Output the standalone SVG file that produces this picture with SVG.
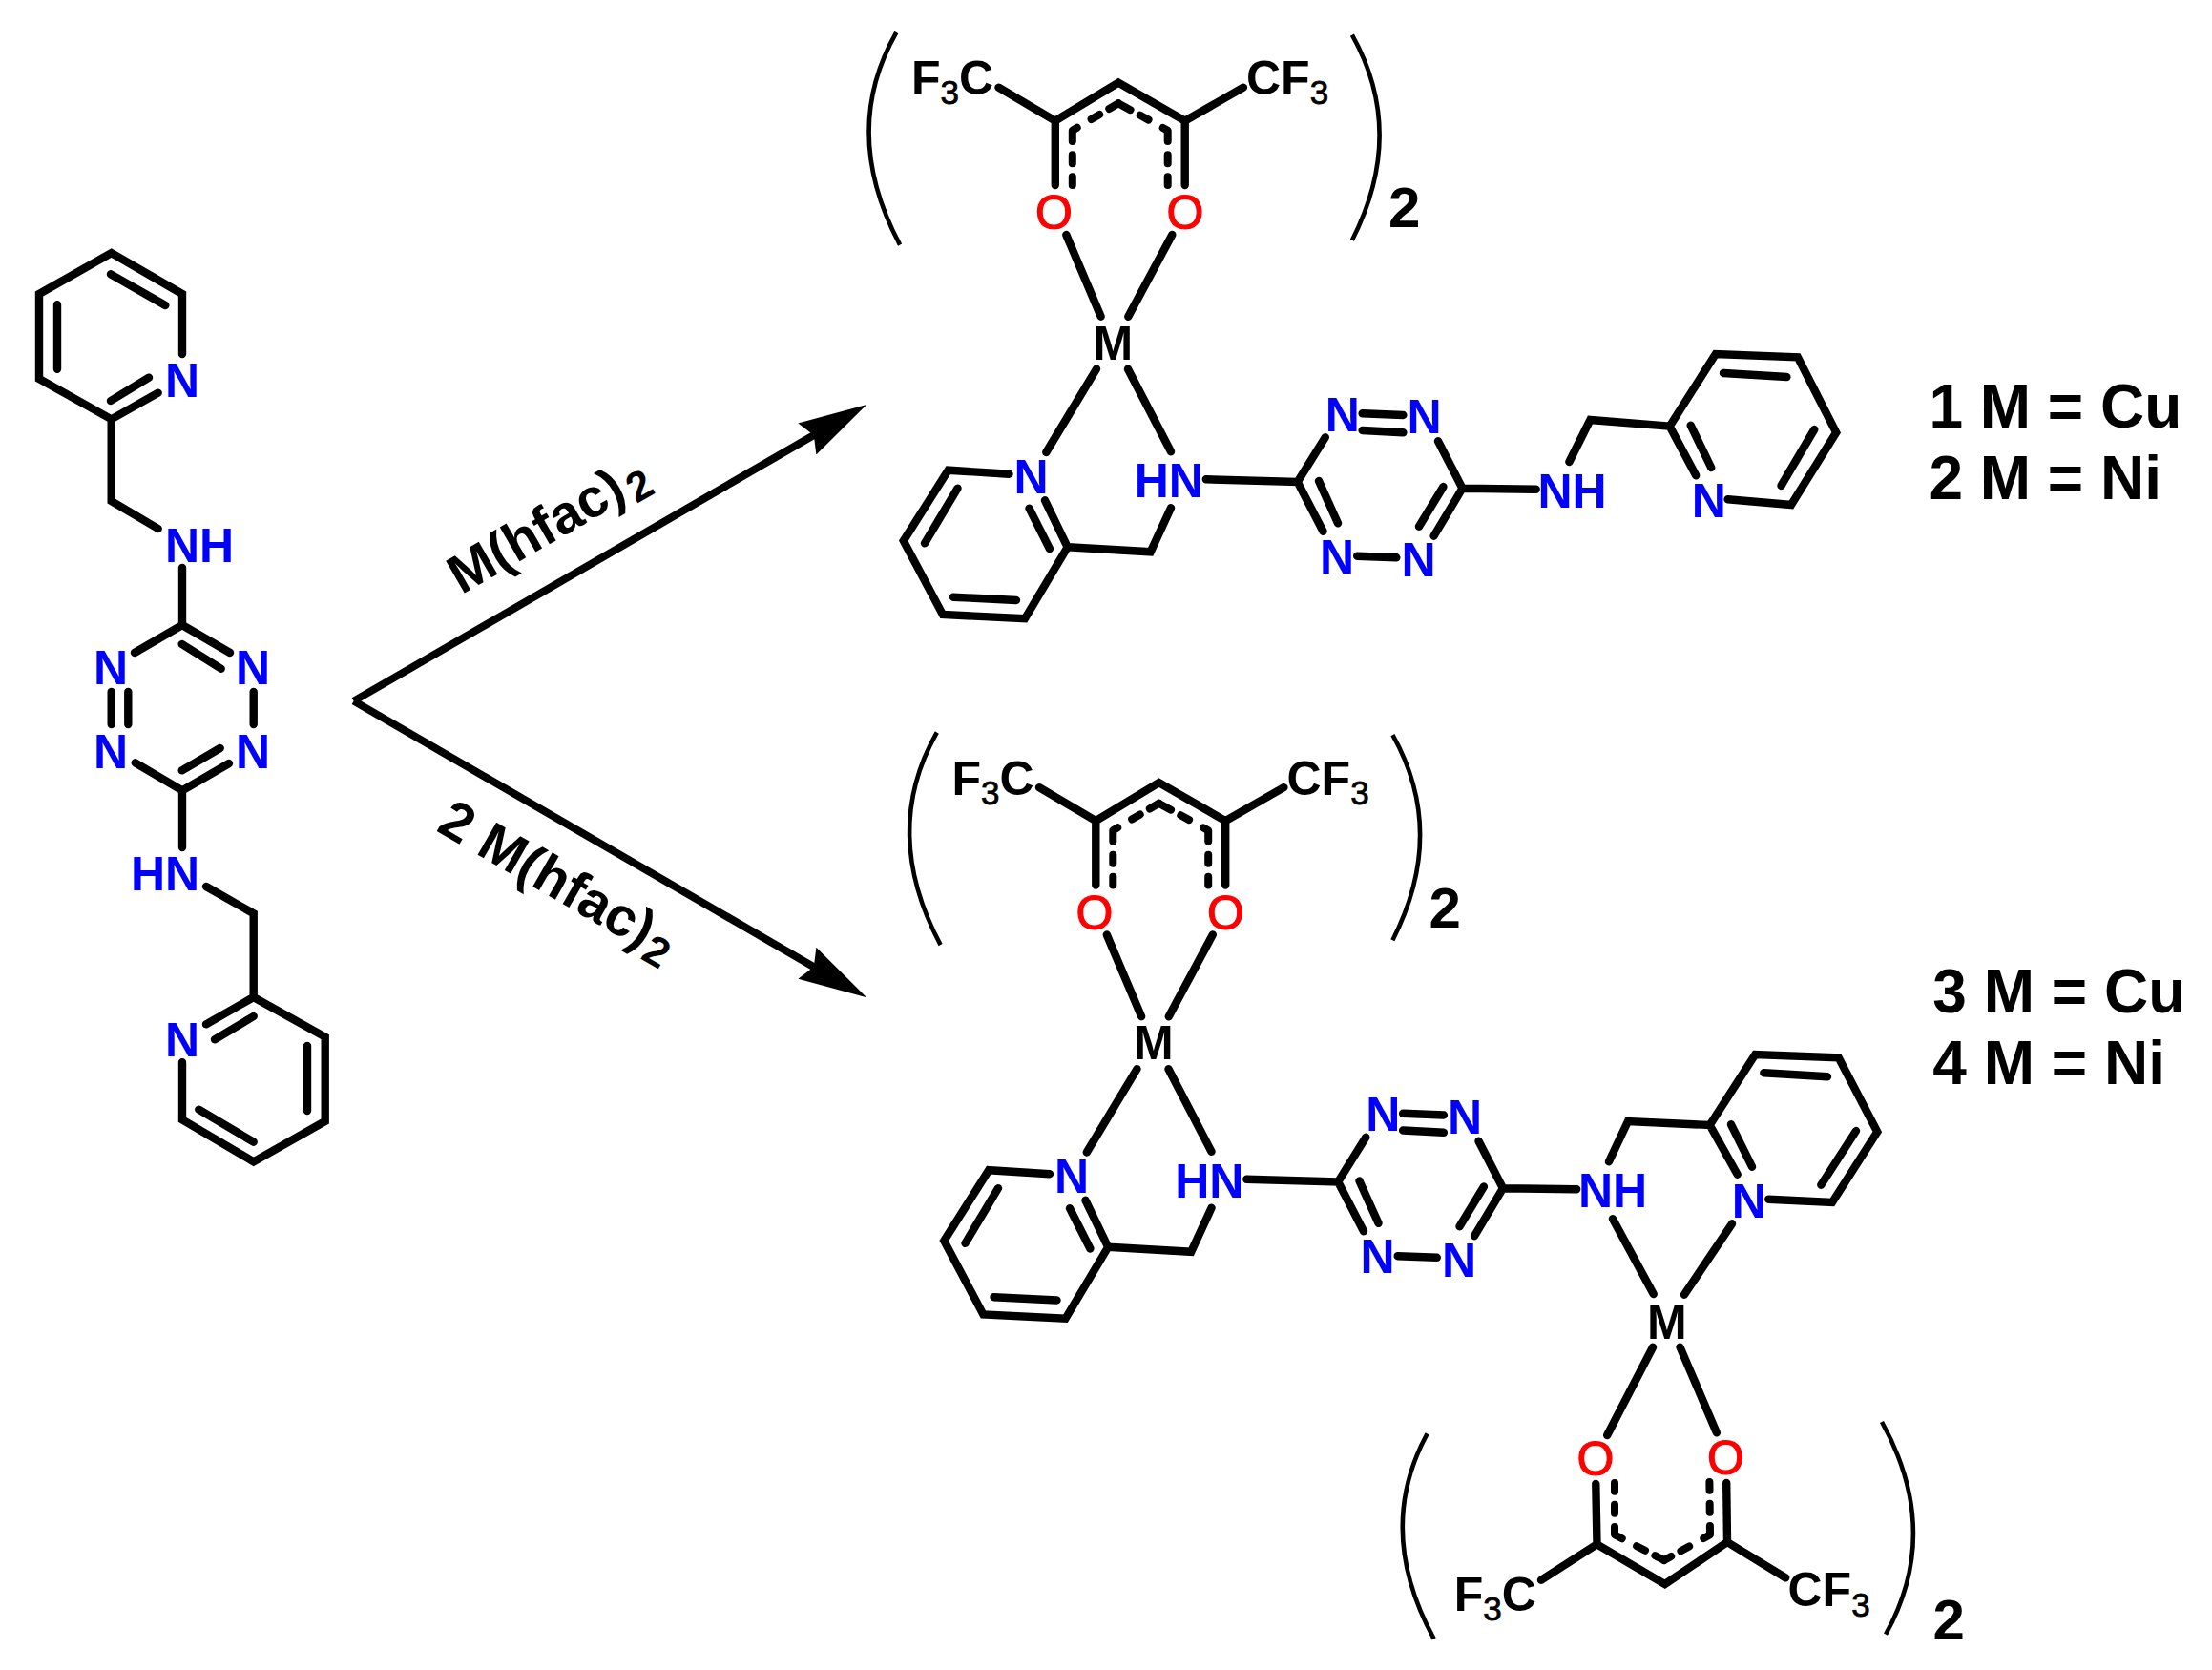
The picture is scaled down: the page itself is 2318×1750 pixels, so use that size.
<svg xmlns="http://www.w3.org/2000/svg" width="2318" height="1750" viewBox="0 0 2318 1750">
<style>
text{font-family:"Liberation Sans",Arial,sans-serif;font-weight:bold;font-size:50px;fill:#000}
.n{fill:#0000ff}
.o{fill:#ff0000;font-weight:normal;stroke:#ff0000;stroke-width:1.2px}
.s{font-size:35px;font-weight:normal;stroke:#000;stroke-width:.8px}
.big{font-size:64px}
.pow{font-size:60px}
.lab{font-size:57px}
.sub{font-size:44px}
.b{fill:none;stroke:#000;stroke-width:8.4;stroke-linecap:round;stroke-linejoin:miter}
.d{fill:none;stroke:#000;stroke-width:8;stroke-linecap:round;stroke-linejoin:round;stroke-dasharray:8.7 14 9 14.3 17 17.3 10 11.7 14}
.p{fill:none;stroke:#000;stroke-width:4.6;stroke-linecap:butt}
.a{fill:none;stroke:#000;stroke-width:8;marker-end:url(#head)}
</style>
<defs>
<marker id="head" markerUnits="userSpaceOnUse" viewBox="0 0 72 38" refX="8" refY="19" markerWidth="72" markerHeight="38" orient="auto"><path d="M0 0L72 19L0 38L8 19Z" fill="#000"/></marker>
</defs>
<rect width="2318" height="1750" fill="#fff"/>

<g id="ligand">
<path class="b" d="M191 371V308L116.7 265L41 308V397L116.7 439.3L165.7 411.7M116 420L156 395.7M116 287.3L173.3 320M60 319.3V386.7M116.7 439.3V525L165.7 554M191 595V655L141 684M191 655L241 684M190.7 675L231.7 700.7M116.7 725V759M134.3 725V759M265.7 725V759M141.7 799.3L191 828.3L240 800M190.7 807.3L230.7 784M191 828.3V888M216 929L265.7 957.3V1045L216 1073.3M265.7 1045L340.7 1086.7V1175L265.7 1217.3L191 1173.3V1113.3M225 1089.3L265.7 1065M322 1096V1164M208.3 1162.7L265.7 1196.7"/>
<text class="n" x="173" y="415.7">N</text>
<text class="n" x="173" y="589">NH</text>
<text class="n" x="98" y="717.3">N</text>
<text class="n" x="247" y="717.3">N</text>
<text class="n" x="98" y="805">N</text>
<text class="n" x="247" y="805">N</text>
<text class="n" x="137" y="933.3">HN</text>
<text class="n" x="173" y="1106.7">N</text>
</g>

<g id="arrows">
<path class="a" d="M370.7 734.6L852.8 456"/>
<path class="a" d="M370.7 734.6L852.8 1013.2"/>
<text class="lab" transform="translate(483.5 623.6) rotate(-30)">M(hfac)<tspan class="sub" dx="4" dy="9">2</tspan></text>
<text class="lab" transform="translate(456 870) rotate(30)">2 M(hfac)<tspan class="sub" dx="2" dy="9">2</tspan></text>
</g>

<g id="complex-top">
<path class="p" d="M939.3 34Q880 138 943.1 256.7"/>
<path class="p" d="M1416.9 36.7Q1474.3 139.2 1416.9 251.7"/>
<text class="pow" x="1455" y="238.3">2</text>
<path class="b" d="M1046.5 91.7L1105.8 126.7L1172 86.7L1241.7 126.7L1302.9 91.7M1105.8 126.7V194M1241.7 126.7V194M1117.3 246L1153.6 331.7M1228.3 246L1182.3 331.7M1149 386.7L1096.3 474M1182 386.7L1227 473.3"/>
<path class="d" d="M1123.8 194V136.7L1172 108.3"/>
<path class="d" d="M1223.7 194V136.7L1172 108.3"/>
<text x="955" y="99.3">F<tspan class="s" dy="10">3</tspan><tspan dy="-10">C</tspan></text>
<text x="1306" y="99.3">CF<tspan class="s" dy="10">3</tspan></text>
<text class="o" x="1085" y="240">O</text>
<text class="o" x="1222.5" y="240">O</text>
<text x="1145.5" y="376.7">M</text>
<path class="b" d="M1057.5 496.7L993.7 492.7L946.8 566.7L987.9 644L1074 648.3L1118.7 573.3L1095 524.3M1003.5 511.7L969 569.3M999 625.7L1065 629M1078.5 532.7L1099.9 575M1118.7 573.3L1205.7 578.3L1227 532.3M1263.8 502.3L1359.7 505L1388.8 458.3M1359.7 505L1386.5 556.7M1382 504L1402 548.3M1427.6 433.3L1470.4 435M1427.6 451L1470.4 453.3M1507 462.3L1532.5 511.7L1502.6 561.7M1512.4 510L1487 551.7M1422.2 582.7L1463.3 584.3M1532.5 511.7L1609.7 512.7M1644.4 484L1666.4 440L1749.7 446.7L1797.8 371L1883.9 374.3L1924.2 453.3L1877 529L1810.6 523.3M1749.7 446.7L1777.2 498.3M1771.7 445.7L1793.2 490M1806 391L1872.4 395M1901.3 450L1866.5 509"/>
<text class="n" x="1062.5" y="516.7">N</text>
<text class="n" x="1188.7" y="521">HN</text>
<text class="n" x="1388.7" y="451.7">N</text>
<text class="n" x="1474.4" y="454.3">N</text>
<text class="n" x="1383" y="600.7">N</text>
<text class="n" x="1468.4" y="604.3">N</text>
<text class="n" x="1611.4" y="531.7">NH</text>
<text class="n" x="1772.7" y="542.3">N</text>
</g>

<g id="labels-top">
<text class="big" x="2021.4" y="447.7">1 M = Cu</text>
<text class="big" x="2021.4" y="522.7">2 M = Ni</text>
</g>

<g id="complex-bottom">
<g transform="translate(42.5 733.5)">
<path class="p" d="M939.3 34Q880 138 943.1 256.7"/>
<path class="p" d="M1416.9 36.7Q1474.3 139.2 1416.9 251.7"/>
<text class="pow" x="1455" y="238.3">2</text>
<path class="b" d="M1046.5 91.7L1105.8 126.7L1172 86.7L1241.7 126.7L1302.9 91.7M1105.8 126.7V194M1241.7 126.7V194M1117.3 246L1153.6 331.7M1228.3 246L1182.3 331.7M1149 386.7L1096.3 474M1182 386.7L1227 473.3"/>
<path class="d" d="M1123.8 194V136.7L1172 108.3"/>
<path class="d" d="M1223.7 194V136.7L1172 108.3"/>
<text x="955" y="99.3">F<tspan class="s" dy="10">3</tspan><tspan dy="-10">C</tspan></text>
<text x="1306" y="99.3">CF<tspan class="s" dy="10">3</tspan></text>
<text class="o" x="1085" y="240">O</text>
<text class="o" x="1222.5" y="240">O</text>
<text x="1145.5" y="376.7">M</text>
<path class="b" d="M1057.5 496.7L993.7 492.7L946.8 566.7L987.9 644L1074 648.3L1118.7 573.3L1095 524.3M1003.5 511.7L969 569.3M999 625.7L1065 629M1078.5 532.7L1099.9 575M1118.7 573.3L1205.7 578.3L1227 532.3M1263.8 502.3L1359.7 505L1388.8 458.3M1359.7 505L1386.5 556.7M1382 504L1402 548.3M1427.6 433.3L1470.4 435M1427.6 451L1470.4 453.3M1507 462.3L1532.5 511.7L1502.6 561.7M1512.4 510L1487 551.7M1422.2 582.7L1463.3 584.3M1532.5 511.7L1609.7 512.7"/>
<text class="n" x="1062.5" y="516.7">N</text>
<text class="n" x="1188.7" y="521">HN</text>
<text class="n" x="1388.7" y="451.7">N</text>
<text class="n" x="1474.4" y="454.3">N</text>
<text class="n" x="1383" y="600.7">N</text>
<text class="n" x="1468.4" y="604.3">N</text>
<text class="n" x="1611.4" y="531.7">NH</text>
</g>
<path class="b" d="M1686 1217.3L1706 1175L1791.7 1179L1839.3 1105L1926.7 1108.3L1967.3 1186L1920 1260L1853.3 1256.7M1791.7 1179L1820.7 1230.7M1814 1178.3L1836 1222.7M1848.3 1124.3L1915 1128.3M1945 1185L1908.3 1241.7M1690 1277.3L1732.7 1356M1815 1282.3L1765 1356.7"/>
<text class="n" x="1814.7" y="1275.7">N</text>
<text x="1726" y="1402.5">M</text>
<path class="b" d="M1732 1411.7L1684.2 1504M1760.5 1411.7L1798.9 1501.3M1672.3 1555L1673.5 1618.3L1744.7 1660L1810 1616L1809.2 1554M1615 1655.7L1673.5 1618.3M1871.2 1653.3L1810 1616"/>
<path class="d" d="M1692 1554V1608.3L1743.9 1635"/>
<path class="d" d="M1791.4 1553L1792 1608.3L1743.9 1635"/>
<text class="o" x="1652.6" y="1546">O</text>
<text class="o" x="1789" y="1544.5">O</text>
<text x="1523.7" y="1687.7">F<tspan class="s" dy="10.6">3</tspan><tspan dy="-10.6">C</tspan></text>
<text x="1873.5" y="1683.3">CF<tspan class="s" dy="10.7">3</tspan></text>
<path class="p" d="M1495.6 1502.3Q1440.6 1603.6 1502.7 1717.3"/>
<path class="p" d="M1972 1490Q2035.8 1605.2 1976 1712.7"/>
<text class="pow" x="2025.4" y="1718.3">2</text>
</g>

<g id="labels-bottom">
<text class="big" x="2025.3" y="1061">3 M = Cu</text>
<text class="big" x="2025.3" y="1136">4 M = Ni</text>
</g>
</svg>
